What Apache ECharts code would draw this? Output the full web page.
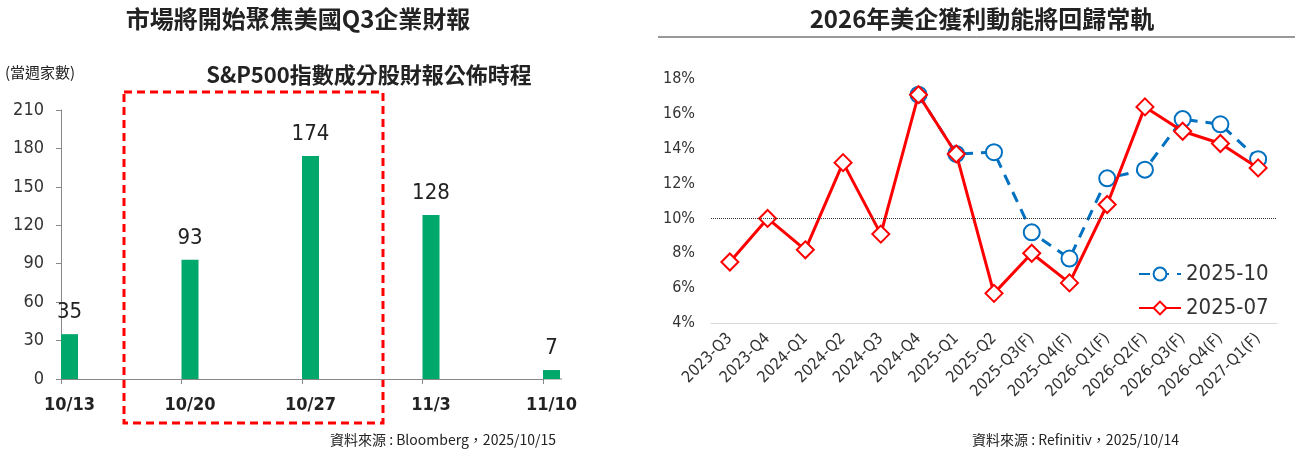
<!DOCTYPE html>
<html>
<head>
<meta charset="utf-8">
<script src="https://cdn.jsdelivr.net/npm/echarts@6/dist/echarts.min.js"></script>
<style>
html, body, #main { width: 100%; height: 100%; margin: 0; background: #fff; }
</style>
</head>
<body>
<div id="main"></div>
<script>
// left: weekly report counts
var weeks = ['10/13', '10/20', '10/27', '11/3', '11/10'];
var reportCounts = [35, 93, 174, 128, 7];

// right: earnings growth (%)
var quarters = ['2023-Q3', '2023-Q4', '2024-Q1', '2024-Q2', '2024-Q3', '2024-Q4', '2025-Q1', '2025-Q2',
    '2025-Q3(F)', '2025-Q4(F)', '2026-Q1(F)', '2026-Q2(F)', '2026-Q3(F)', '2026-Q4(F)', '2027-Q1(F)'];
var growthOct = ['-', '-', '-', '-', '-', 17.1, 13.7, 13.8, 9.2, 7.7, 12.3, 12.8, 15.7, 15.4, 13.4];
var growthJul = [7.5, 10.0, 8.2, 13.2, 9.1, 17.1, 13.7, 5.7, 8.0, 6.3, 10.8, 16.4, 15.0, 14.3, 12.9];

var cjk = '"Noto Sans CJK TC", sans-serif';
var num = '"Liberation Sans Narrow", "DejaVu Sans Condensed", "Noto Sans CJK TC", sans-serif';

var chart = echarts.init(document.getElementById('main'));
var option = {
    animation: false,
    title: [
        { text: '市場將開始聚焦美國Q3企業財報', left: 293, top: 2, textAlign: 'center',
          textStyle: { fontFamily: cjk, fontSize: 24, fontWeight: 'bold', color: '#222' } },
        { text: '2026年美企獲利動能將回歸常軌', left: 977, top: 2, textAlign: 'center',
          textStyle: { fontFamily: cjk, fontSize: 24, fontWeight: 'bold', color: '#222' } },
        { text: 'S&P500指數成分股財報公佈時程', left: 364, top: 59, textAlign: 'center',
          textStyle: { fontFamily: cjk, fontSize: 22, fontWeight: 'bold', color: '#222' } }
    ],
    legend: {
        data: ['2025-10', '2025-07'],
        orient: 'vertical',
        left: 1133, top: 258,
        itemWidth: 42, itemHeight: 16, itemGap: 12,
        textStyle: { fontFamily: num, fontSize: 22, color: '#333' }
    },
    grid: [
        { left: 61, top: 110, width: 482, height: 269 },
        { left: 711, top: 79, width: 566, height: 244 }
    ],
    xAxis: [
        {
            type: 'category', gridIndex: 0, data: weeks, boundaryGap: false,
            axisLine: { lineStyle: { color: '#888' } },
            axisTick: { length: 5, lineStyle: { color: '#888' } },
            axisLabel: { margin: 17, padding: [0, 0, 0, 17], fontFamily: num, fontSize: 18,
                         color: '#222', fontWeight: 'bold' }
        },
        {
            type: 'category', gridIndex: 1, data: quarters,
            axisLine: { lineStyle: { color: '#d9d9d9' } },
            axisTick: { show: false },
            axisLabel: { rotate: 45, margin: 13, interval: 0, fontFamily: num, fontSize: 16, color: '#333' }
        }
    ],
    yAxis: [
        {
            type: 'value', gridIndex: 0, min: 0, max: 210, interval: 30,
            axisLine: { show: true, lineStyle: { color: '#888' } },
            axisTick: { show: true, length: 5, lineStyle: { color: '#888' } },
            splitLine: { show: false },
            axisLabel: { margin: 17, fontFamily: num, fontSize: 18, color: '#333' }
        },
        {
            type: 'value', gridIndex: 1, min: 4, max: 18, interval: 2,
            axisLine: { show: false }, axisTick: { show: false },
            splitLine: { show: false },
            axisLabel: { margin: 16, formatter: '{value}%', fontFamily: num, fontSize: 16, color: '#333' }
        }
    ],
    series: [
        {
            // spacer so the real bar starts at the tick
            type: 'bar', xAxisIndex: 0, yAxisIndex: 0, data: reportCounts,
            barWidth: 17, barGap: '0%', silent: true, clip: false,
            itemStyle: { color: 'rgba(0,0,0,0)' }
        },
        {
            type: 'bar', xAxisIndex: 0, yAxisIndex: 0, data: reportCounts,
            barWidth: 17, barGap: '0%', clip: false,
            itemStyle: { color: '#00A86B' },
            label: { show: true, position: 'top', distance: 11, fontFamily: num, fontSize: 22, color: '#222' }
        },
        {
            name: '2025-10', type: 'line', xAxisIndex: 1, yAxisIndex: 1, data: growthOct,
            symbol: 'emptyCircle', symbolSize: 16, z: 3,
            itemStyle: { color: '#0070C0', borderWidth: 3.5 },
            lineStyle: { color: '#0070C0', width: 3, type: [11, 8] },
            markLine: {
                silent: true, symbol: 'none', label: { show: false },
                lineStyle: { color: '#333', type: 'dotted', width: 1 },
                data: [{ yAxis: 10 }]
            }
        },
        {
            name: '2025-07', type: 'line', xAxisIndex: 1, yAxisIndex: 1, data: growthJul,
            symbol: 'emptyDiamond', symbolSize: 17, z: 4,
            itemStyle: { color: '#FF0000', borderWidth: 3.5 },
            lineStyle: { color: '#FF0000', width: 3 }
        }
    ],
    graphic: [
        { type: 'line', shape: { x1: 5, y1: 37, x2: 578, y2: 37 }, style: { stroke: '#333', lineWidth: 1 } },
        { type: 'line', shape: { x1: 658, y1: 37, x2: 1295, y2: 37 }, style: { stroke: '#333', lineWidth: 1 } },
        { type: 'rect', shape: { x: 124, y: 92, width: 259, height: 331 },
          style: { fill: 'none', stroke: '#FF0000', lineWidth: 3, lineDash: [8, 5] } },
        { type: 'text', left: 5, top: 65,
          style: { text: '(當週家數)', fontFamily: cjk, fontSize: 15, fill: '#222' } },
        { type: 'text', right: 744, top: 433,
          style: { text: '資料來源 : Bloomberg，2025/10/15', fontFamily: cjk, fontSize: 14, fill: '#222' } },
        { type: 'text', left: 972, top: 433,
          style: { text: '資料來源 : Refinitiv，2025/10/14', fontFamily: cjk, fontSize: 14, fill: '#222' } }
    ]
};
chart.setOption(option);

// stretch the bottom axis line to the end of the last bar
var lastPt = chart.convertToPixel({ xAxisIndex: 0, yAxisIndex: 0 }, [weeks.length - 1, 0]);
chart.setOption({
    graphic: [{ type: 'line', shape: { x1: lastPt[0], y1: lastPt[1], x2: lastPt[0] + 19, y2: lastPt[1] },
                style: { stroke: '#888', lineWidth: 1 } }]
});
window.onresize = chart.resize;
</script>
</body>
</html>
